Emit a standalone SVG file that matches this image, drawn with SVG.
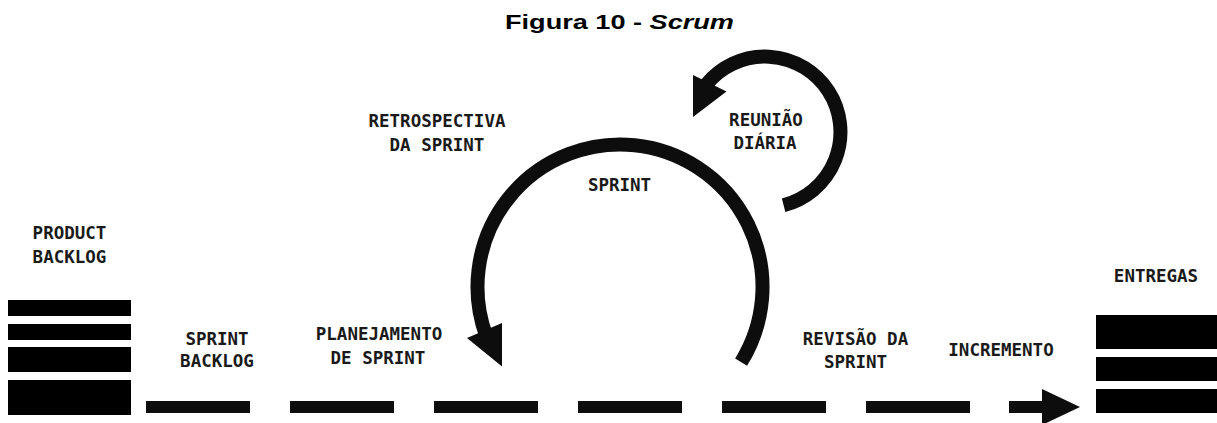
<svg xmlns="http://www.w3.org/2000/svg" width="1217" height="423" viewBox="0 0 1217 423">
  <style>
    .lbl { font-family: "DejaVu Sans Mono", "Liberation Mono", monospace; font-weight: bold; font-size: 17.5px; fill: #1a1a1a; text-anchor: middle; }
    .title { font-family: "Liberation Sans", Arial, sans-serif; font-weight: bold; font-size: 20.5px; fill: #000; }
    .bar { fill: #000; }
    .dash { fill: #0d0d0d; }
    .loop { fill: none; stroke: #0d0d0d; stroke-width: 14; stroke-linecap: butt; }
    .head { fill: #0d0d0d; }
  </style>

  <!-- caption -->
  <text class="title" x="505" y="29" textLength="229" lengthAdjust="spacingAndGlyphs">Figura 10 - <tspan font-style="italic">Scrum</tspan></text>

  <!-- product backlog stack -->
  <g id="product-backlog">
    <text class="lbl" x="69.5" y="239">PRODUCT</text>
    <text class="lbl" x="69.5" y="263">BACKLOG</text>
    <rect class="bar" x="8" y="300" width="123" height="16"/>
    <rect class="bar" x="8" y="324" width="123" height="16"/>
    <rect class="bar" x="8" y="347" width="123" height="25"/>
    <rect class="bar" x="8" y="380" width="123" height="35"/>
  </g>

  <g id="sprint-backlog">
    <text class="lbl" x="217" y="345">SPRINT</text>
    <text class="lbl" x="217" y="367">BACKLOG</text>
  </g>

  <g id="planejamento">
    <text class="lbl" x="379" y="340">PLANEJAMENTO</text>
    <text class="lbl" x="378" y="364">DE SPRINT</text>
  </g>

  <g id="retrospectiva">
    <text class="lbl" x="437" y="127">RETROSPECTIVA</text>
    <text class="lbl" x="437" y="151">DA SPRINT</text>
  </g>

  <g id="sprint">
    <text class="lbl" x="619.5" y="191">SPRINT</text>
  </g>

  <g id="reuniao-diaria">
    <text class="lbl" x="766" y="126">REUNIÃO</text>
    <text class="lbl" x="765" y="149">DIÁRIA</text>
  </g>

  <g id="revisao">
    <text class="lbl" x="855.5" y="345">REVISÃO DA</text>
    <text class="lbl" x="855.5" y="368">SPRINT</text>
  </g>

  <g id="incremento">
    <text class="lbl" x="1001" y="356">INCREMENTO</text>
  </g>

  <!-- deliveries stack -->
  <g id="entregas">
    <text class="lbl" x="1156" y="282">ENTREGAS</text>
    <rect class="bar" x="1096" y="315" width="121" height="34"/>
    <rect class="bar" x="1096" y="357" width="121" height="24"/>
    <rect class="bar" x="1096" y="389" width="121" height="24"/>
  </g>

  <g id="connectors">
    <!-- dashed timeline -->
    <rect class="dash" x="146" y="401" width="104" height="12"/>
    <rect class="dash" x="290" y="401" width="104" height="12"/>
    <rect class="dash" x="434" y="401" width="104" height="12"/>
    <rect class="dash" x="578" y="401" width="104" height="12"/>
    <rect class="dash" x="722" y="401" width="104" height="12"/>
    <rect class="dash" x="866" y="401" width="104" height="12"/>
    <rect class="dash" x="1009" y="401" width="35" height="12"/>
    <polygon class="head" points="1042,389 1080,407 1042,425"/>

    <!-- sprint cycle -->
    <path class="loop" d="M741.1,362.1 A142.5,142.5 0 1 0 486.1,335.7"/>
    <polygon class="head" points="467,338 502,323 502,366.5"/>

    <!-- daily meeting cycle -->
    <path class="loop" d="M783.6,205.2 A75.5,75.5 0 1 0 706.3,84.5"/>
    <polygon class="head" points="693,75 726.5,91.5 693,117"/>
  </g>
</svg>
